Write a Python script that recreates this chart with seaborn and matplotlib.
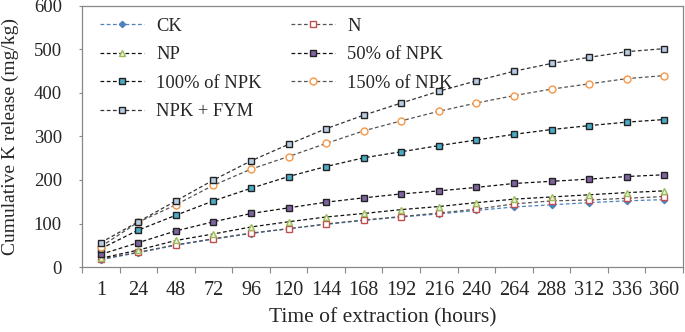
import numpy as np
import pandas as pd
import matplotlib
matplotlib.use("Agg")
import matplotlib.pyplot as plt
import seaborn as sns

times = ["1", "24", "48", "72", "96", "120", "144", "168", "192", "216", "240", "264", "288", "312", "336", "360"]
ck = [17, 33, 50, 64, 77, 88, 98, 107, 115, 122, 130, 138, 143, 148, 152, 155]
n_ = [18, 34, 51, 65, 78, 88, 99, 108, 116, 124, 133, 145, 152, 154, 158, 162]
np_ = [20, 39, 61, 76, 92, 104, 115, 123, 132, 139, 148, 156, 161, 166, 171, 175]
npk50 = [29, 56, 83, 104, 123, 136, 149, 159, 168, 175, 183, 192, 197, 202, 208, 212]
npk100 = [42, 85, 119, 152, 181, 208, 231, 251, 265, 279, 292, 305, 316, 325, 333, 339]
npk150 = [47, 103, 143, 188, 225, 254, 284, 313, 336, 358, 377, 394, 409, 421, 433, 440]
fym = [56, 104, 152, 200, 244, 282, 318, 349, 377, 404, 428, 450, 468, 482, 495, 502]

series_names = ["CK", "N", "NP", "50% of NPK", "100% of NPK", "150% of NPK", "NPK + FYM"]
series_vals = [ck, n_, np_, npk50, npk100, npk150, fym]

styles = {
    "CK": dict(color="#4f81bd", marker="D", mfc="#4f81bd", mec="#4f81bd", ms=3.2),
    "N": dict(color="#555555", marker="s", mfc="white", mec="#c0504d", ms=5),
    "NP": dict(color="#111111", marker="^", mfc="#ebf1de", mec="#9bbb59", ms=5),
    "50% of NPK": dict(color="#111111", marker="s", mfc="#8064a2", mec="#222222", ms=4.5),
    "100% of NPK": dict(color="#111111", marker="s", mfc="#4bacc6", mec="#222222", ms=4.5),
    "150% of NPK": dict(color="#555555", marker="o", mfc="white", mec="#f79646", ms=5),
    "NPK + FYM": dict(color="#333333", marker="s", mfc="#b9cde5", mec="#222222", ms=4.5),
}

df = pd.DataFrame({
    "pos": np.tile(np.arange(len(times)), len(series_names)),
    "value": np.concatenate(series_vals),
    "series": np.repeat(series_names, len(times)),
})

sns.set_theme(style="white")
plt.rcParams["font.family"] = ["Liberation Serif", "DejaVu Serif"]

fig = plt.figure(figsize=(6.85, 3.32), dpi=100)
ax = fig.add_axes([82/685, 65/332, 601/685, 261/332])

handles = {}
for name in series_names:
    st = styles[name]
    sub = df[df["series"] == name]
    sns.lineplot(data=sub, x="pos", y="value", ax=ax, color=st["color"],
                 linewidth=0.9, marker=st["marker"], markersize=st["ms"],
                 markerfacecolor=st["mfc"], markeredgecolor=st["mec"],
                 markeredgewidth=1.0, dashes=False, legend=False)
    line = ax.get_lines()[-1]
    line.set_dashes([3, 2])
    handles[name] = line

ax.set_xlim(-0.5, len(times) - 0.5)
ax.set_ylim(0, 600)
ax.set_yticks(range(0, 601, 100))
ax.set_xticks(np.arange(len(times)))
ax.set_xticklabels(times)
ax.set_xticks(np.arange(-0.5, len(times), 1.0), minor=True)
ax.tick_params(axis="x", which="major", length=0, labelsize=14.5, pad=10)
ax.tick_params(axis="x", which="minor", length=4, width=0.8, color="#888888", direction="out")
ax.tick_params(axis="y", which="major", length=2.5, width=0.8, color="#888888", direction="out",
               labelsize=13.5, pad=12)
ax.tick_params(bottom=True, left=True, which="both")
for s in ax.spines.values():
    s.set_color("#888888")
    s.set_linewidth(0.9)

ax.set_xlabel("Time of extraction (hours)", fontsize=15.5, labelpad=6)
ax.set_ylabel("Cumulative K release (mg/kg)", fontsize=14)
ax.yaxis.set_label_coords(-0.105, 0.5)

order = ["CK", "NP", "100% of NPK", "NPK + FYM", "N", "50% of NPK", "150% of NPK"]
ax.legend([handles[k] for k in order], order, ncol=2, frameon=False,
          loc="upper left", bbox_to_anchor=(0.008, 1.005), fontsize=13.3,
          handlelength=2.4, handletextpad=0.65, columnspacing=1.6,
          labelspacing=0.62, borderaxespad=0.3)

fig.savefig("out.png", dpi=100)
